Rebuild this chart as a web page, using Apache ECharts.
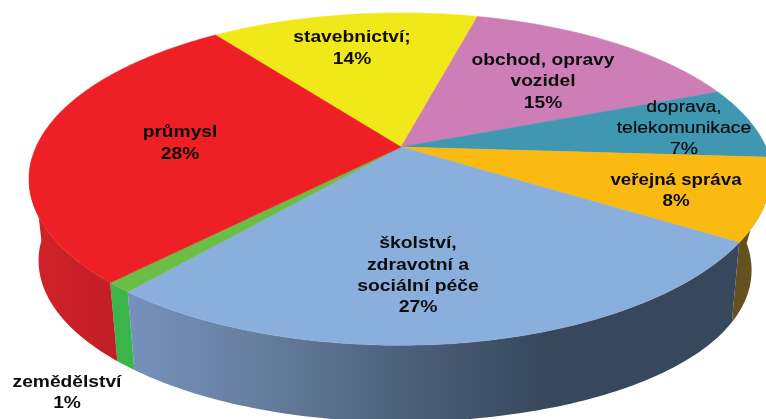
<!DOCTYPE html>
<html><head><meta charset="utf-8">
<style>html,body{margin:0;padding:0;background:#fff;overflow:hidden}#c{width:766px;height:419px}</style>
<script src="https://cdn.jsdelivr.net/npm/echarts@6/dist/echarts.min.js"></script>
</head><body><div id="c"></div>
<script>
const categories = ['stavebnictví;','obchod, opravy\nvozidel','doprava,\ntelekomunikace','veřejná správa','školství,\nzdravotní a\nsociální péče','zemědělství','průmysl'];
const values = [14,15,7,8,27,1,28];
const topColors = ['#f1e819','#cd7eb6','#3f97b2','#fbba12','#8aafdd','#6abd45','#ee1f25'];
const wallColors = ['#b8b013','#9c5f8a','#2f7286','#65501f','#5a7494','#3ab54a','#c81f26'];
const labelCenters = [[352,48.5],[543,82],[684,128.5],[676,191],[418,276],[67,393],[180,143.5]];
const labelStretch = [1.2,1.2,1.21,1.17,1.21,1.2,1.2];
const labelWeights = ['bold','bold','normal','bold','bold','bold','bold'];

// Perspective view of the pie disc
const view = {cx:401, cy:147, R:365, H:160, k:0.193, startDeg:-36, bottomScale:0.97, bottomCx:399.4, bottomCy:229.5,
  bottomRightR:341, bottomRightK:0.25, topRightTrim:0.03, wallFrom:95, wallTo:266};
function project(deg, bottom){
  const a = deg*Math.PI/180, u = Math.sin(a), v = -Math.cos(a), w = 1 - view.k*v;
  const x = view.R*u/w, y = view.H*v/w;
  if (bottom) {
    const bx = u > 0 ? view.bottomRightR*u/(1 - view.bottomRightK*v) : view.bottomScale*x;
    return [view.bottomCx + bx, view.bottomCy + view.bottomScale*y];
  }
  const trim = (u > 0 && v > 0) ? 1 - view.topRightTrim*v : 1;
  return [view.cx + x*trim, view.cy + y];
}
const total = values.reduce((s,v)=>s+v,0);
function sliceRange(i){
  let sum = 0; for (let j=0;j<i;j++) sum += values[j];
  return [view.startDeg + sum/total*360, view.startDeg + (sum+values[i])/total*360];
}
function arc(from,to,bottom){
  const pts=[], n=Math.max(2,Math.ceil((to-from)/1));
  for(let t=0;t<=n;t++) pts.push(project(from+(to-from)*t/n,bottom));
  return pts;
}
function wallFill(i){
  if (i===4) return {type:'linear',x:131,y:0,x2:545,y2:0,global:true,colorStops:[
    {offset:0,color:'#7691bc'},{offset:0.3,color:'#667f9f'},{offset:0.65,color:'#4d617b'},{offset:1,color:'#37485c'}]};
  if (i===6) return {type:'linear',x:30,y:0,x2:118,y2:0,global:true,colorStops:[
    {offset:0,color:'#d32128'},{offset:1,color:'#c01f26'}]};
  return wallColors[i];
}
function renderWall(params, api){
  const i=params.dataIndex, r=sliceRange(i);
  const from=Math.max(r[0],view.wallFrom), to=Math.min(r[1],view.wallTo);
  if(to<=from) return {type:'group',children:[]};
  const points=arc(from,to,false).concat(arc(from,to,true).reverse());
  return {type:'polygon',shape:{points},style:{fill:wallFill(i)},silent:true};
}
function renderTop(params, api){
  const i=params.dataIndex, r=sliceRange(i);
  const points=[[view.cx,view.cy]].concat(arc(r[0],r[1],false));
  return {type:'polygon',shape:{points},style:{fill:topColors[i],stroke:topColors[i],lineWidth:0.5},silent:true};
}
function renderLabel(params, api){
  const i=params.dataIndex, c=labelCenters[i];
  return {type:'text',x:c[0],y:c[1],scaleX:labelStretch[i],silent:true,
    style:{text:categories[i]+'\n'+api.value(0)+'%',x:0,y:0,align:'center',verticalAlign:'middle',
      fill:'#0c0c0c',font:labelWeights[i]+' 16px "Liberation Sans", Arial, sans-serif',lineHeight:21.3,
      stroke:labelWeights[i]==='normal'?'#0c0c0c':null,lineWidth:labelWeights[i]==='normal'?0.2:0}};
}
const chart=echarts.init(document.getElementById('c'),null,{renderer:'canvas'});
const data=values.map(v=>[v]);
chart.setOption({animation:false,backgroundColor:'#fff',series:[
  {type:'custom',coordinateSystem:'none',renderItem:renderWall,data,z:1},
  {type:'custom',coordinateSystem:'none',renderItem:renderTop,data,z:2},
  {type:'custom',coordinateSystem:'none',renderItem:renderLabel,data,z:3}
]});
</script></body></html>
